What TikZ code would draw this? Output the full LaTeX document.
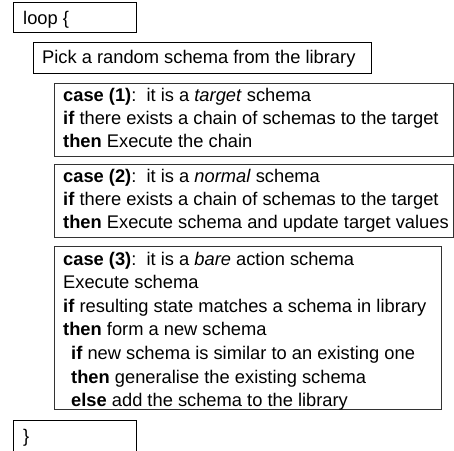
\documentclass[tikz,border=0pt]{standalone}
\usepackage{fontspec}
\setmainfont{Liberation Sans}
\begin{document}
\begin{tikzpicture}[x=1pt,y=-1pt,
  box/.style={draw=black, line width=0.8pt},
  cbox/.style={draw=black!80, line width=0.9pt},
  txt/.style={anchor=base west, inner sep=0pt, font=\fontsize{18.3}{23}\selectfont},
  txtb/.style={txt, font=\fontsize{18.3}{23.6}\selectfont},
]
\useasboundingbox (0,0) rectangle (454,450);
% loop box
\draw[box] (13,2) rectangle (136,32);
\node[txt] (loop) at (23,24) {loop \{};
% pick box
\draw[box] (33,42) rectangle (371,73);
\node[txt] (pick) at (42,63) {Pick a random schema from the library};
% case 1
\draw[cbox] (54,83) rectangle (453,156);
\node[txt] (c1) at (63,101) {\begin{tabular}[t]{@{}l@{}}
\textbf{case (1)}:\ \ it is a \textit{target} schema\\
\textbf{if} there exists a chain of schemas to the target\\
\textbf{then} Execute the chain
\end{tabular}};
% case 2
\draw[cbox] (54,164) rectangle (453,237);
\node[txt] (c2) at (63,182) {\begin{tabular}[t]{@{}l@{}}
\textbf{case (2)}:\ \ it is a \textit{normal} schema\\
\textbf{if} there exists a chain of schemas to the target\\
\textbf{then} Execute schema and update target values
\end{tabular}};
% case 3
\draw[cbox] (54,246) rectangle (441,409);
\node[txtb] (c3) at (63,265) {\begin{tabular}[t]{@{}l@{}}
\textbf{case (3)}:\ \ it is a \textit{bare} action schema\\
Execute schema\\
\textbf{if} resulting state matches a schema in library\\
\textbf{then} form a new schema\\
\hspace{8pt}\textbf{if} new schema is similar to an existing one\\
\hspace{8pt}\textbf{then} generalise the existing schema\\
\hspace{8pt}\textbf{else} add the schema to the library
\end{tabular}};
% closing box
\draw[box] (13,460) -- (13,420) -- (136,420) -- (136,460);
\node[txt] (close) at (23,442) {\}};
\end{tikzpicture}
\end{document}
